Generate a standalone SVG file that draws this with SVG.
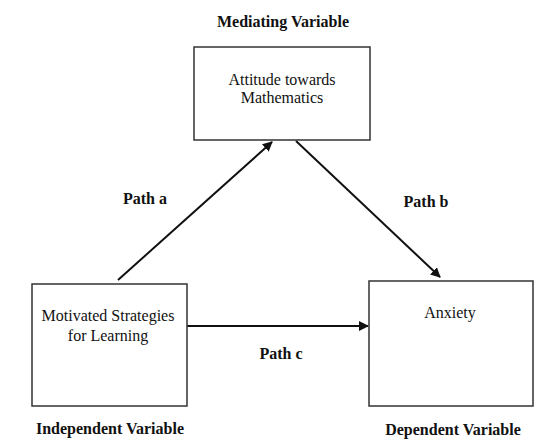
<svg xmlns="http://www.w3.org/2000/svg" width="551" height="447" viewBox="0 0 551 447">
<style>
.box{fill:#fff;stroke:#333;stroke-width:1.5}
.t{font-family:"Liberation Serif","Times New Roman","DejaVu Serif",serif;font-size:16px;fill:#111;text-anchor:middle}
.b{font-weight:bold}
.c{stroke:#111;stroke-width:2;fill:none;marker-end:url(#ah)}
</style>
<defs>
<marker id="ah" viewBox="0 0 10 10" refX="9" refY="5" markerWidth="5" markerHeight="5" orient="auto" markerUnits="strokeWidth">
<path d="M0,0 L10,5 L0,10 z" fill="#111"/>
</marker>
</defs>
<rect width="551" height="447" fill="#fff"/>
<g id="connectors">
<line class="c" x1="118" y1="280" x2="272" y2="142"/>
<line class="c" x1="296" y1="141" x2="440" y2="277"/>
<line class="c" x1="187" y1="326" x2="368" y2="326"/>
<text class="t b" x="145" y="204">Path a</text>
<text class="t b" x="426" y="207">Path b</text>
<text class="t b" x="281" y="359">Path c</text>
</g>
<g id="mediator">
<text class="t b" x="283" y="27">Mediating Variable</text>
<rect class="box" x="194" y="47" width="176" height="93"/>
<text class="t" x="282" y="85">Attitude towards</text>
<text class="t" x="282" y="103">Mathematics</text>
</g>
<g id="independent">
<rect class="box" x="32" y="284" width="155" height="122"/>
<text class="t" x="108" y="321">Motivated Strategies</text>
<text class="t" x="108" y="341">for Learning</text>
<text class="t b" x="110" y="434">Independent Variable</text>
</g>
<g id="dependent">
<rect class="box" x="369" y="281" width="164" height="125"/>
<text class="t" x="450" y="318">Anxiety</text>
<text class="t b" x="453" y="435">Dependent Variable</text>
</g>
</svg>
